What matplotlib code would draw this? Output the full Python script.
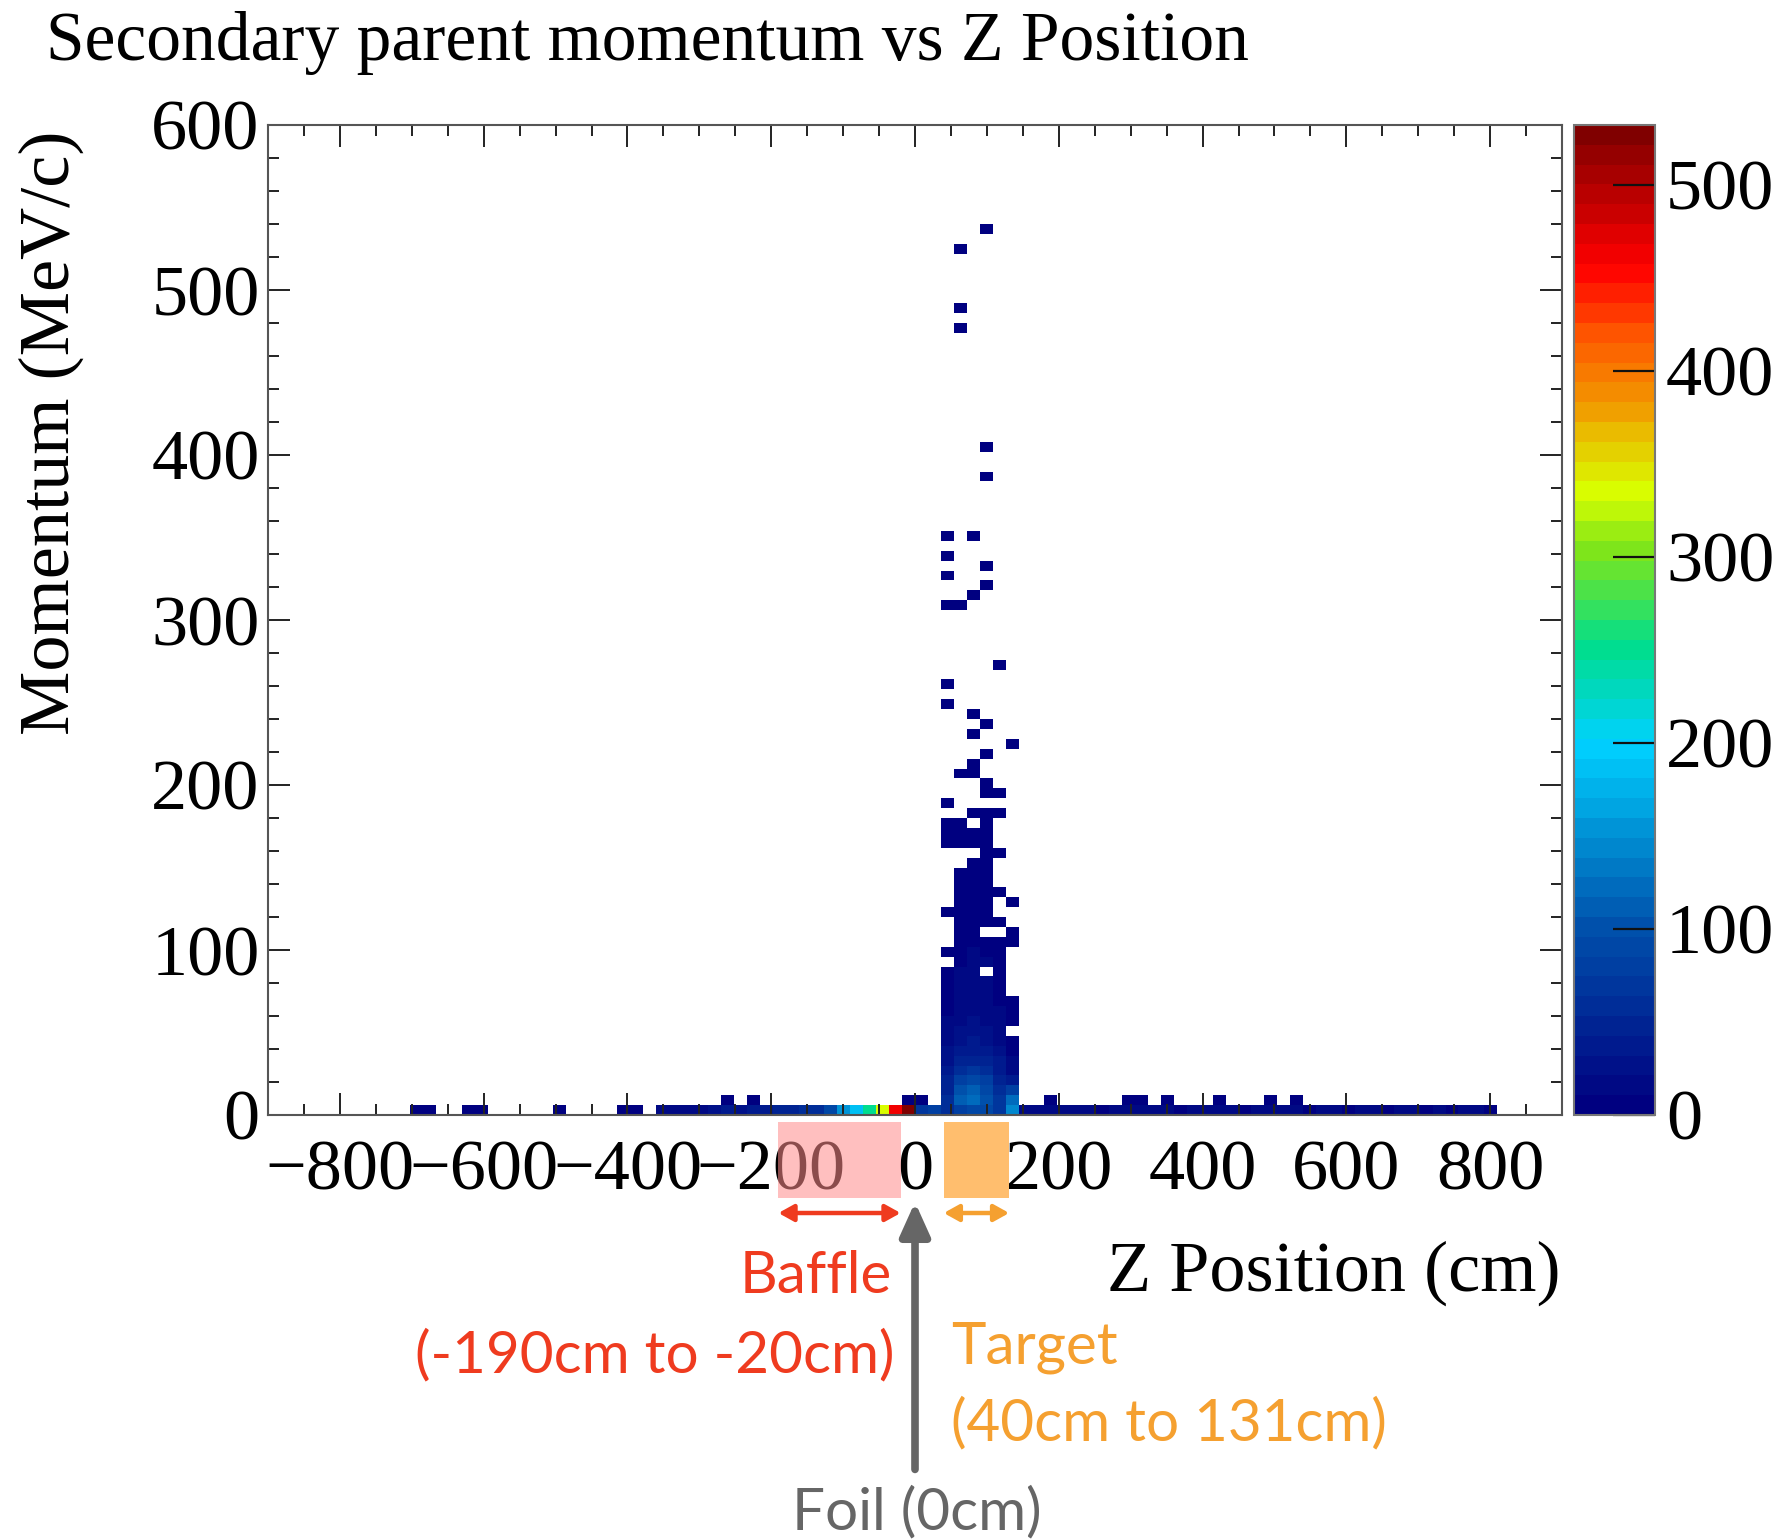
import numpy as np
import matplotlib
matplotlib.use("Agg")
import matplotlib.pyplot as plt
from matplotlib.colors import LinearSegmentedColormap, BoundaryNorm
from matplotlib.patches import Rectangle, FancyArrowPatch
from matplotlib.ticker import MultipleLocator
import matplotlib.transforms as mtransforms

# histogram binning: 100 x 100 bins
z_edges = np.linspace(-900, 900, 101)   # 18 cm per bin
p_edges = np.linspace(0, 600, 101)      # 6 MeV/c per bin

# lowest momentum row (0-6 MeV/c), z bins left of the target
floor_left_bins = [11, 12, 15, 16, 22, 27, 28,
                   30, 31, 32, 33, 34, 35, 36, 37, 38, 39, 40,
                   41, 42, 43, 44, 45, 46, 47, 48, 49, 50, 51]
floor_left_counts = [8, 6, 9, 7, 5, 10, 8,
                     12, 14, 13, 15, 28, 32, 30, 34, 35, 45, 50,
                     55, 60, 95, 150, 190, 250, 330, 460, 532, 70, 75]

# lowest momentum row, z bins right of the target (bins 58..94)
floor_right_bins = list(range(58, 95))
floor_right_counts = [14, 16, 12, 11, 13, 12, 10, 11, 12, 13,
                      12, 11, 10, 12, 11, 13, 12, 10, 11, 12,
                      13, 11, 10, 12, 11, 10, 12, 11, 10, 11,
                      12, 10, 11, 10, 12, 11, 10]

# second row (6-12 MeV/c)
row1_bins = [35, 37, 49, 50, 60, 66, 67, 69, 73, 77, 79]
row1_counts = [3, 2, 4, 5, 2, 3, 2, 2, 3, 2, 2]

# the target peak: z bins 52..57, momentum rows 0..30 (bottom first)
peak_bins = [52, 53, 54, 55, 56, 57]
peak_counts = [
    [60, 85, 95, 90, 70, 140],
    [56, 110, 118, 105, 70, 120],
    [50, 100, 110, 95, 60, 80],
    [44, 80, 90, 76, 50, 40],
    [36, 60, 66, 58, 42, 20],
    [28, 48, 52, 46, 34, 14],
    [22, 38, 42, 38, 26, 10],
    [18, 30, 34, 30, 20, 8],
    [14, 24, 28, 24, 16, 0],
    [12, 20, 24, 20, 14, 6],
    [10, 18, 20, 18, 12, 5],
    [8, 16, 18, 16, 10, 4],
    [7, 14, 16, 14, 9, 0],
    [6, 12, 14, 12, 8, 0],
    [5, 11, 13, 0, 7, 0],
    [0, 10, 12, 11, 6, 0],
    [3, 9, 11, 10, 5, 0],
    [0, 8, 10, 9, 5, 3],
    [0, 7, 9, 0, 0, 3],
    [0, 7, 9, 8, 3, 0],
    [2, 6, 8, 7, 0, 0],
    [0, 6, 7, 6, 0, 2],
    [0, 5, 6, 6, 2, 0],
    [0, 4, 5, 6, 0, 0],
    [0, 3, 4, 5, 0, 0],
    [0, 0, 2, 3, 0, 0],
    [0, 0, 0, 3, 2, 0],
    [3, 2, 2, 4, 0, 0],
    [4, 3, 2, 5, 0, 0],
    [3, 2, 0, 4, 0, 0],
    [0, 0, 3, 2, 2, 0],
]

# isolated high momentum entries above the peak
tail_z_bins = [52, 53, 53, 54, 55, 55, 56, 52, 52, 54, 55, 54, 57, 55, 54,
               53, 54, 55, 55, 56, 52, 52, 54, 52, 55, 52, 55, 53, 53, 53, 55]
tail_p_bins = [31, 34, 34, 35, 36, 33, 32, 41, 43, 38, 39, 40, 37, 32, 52,
               51, 58, 53, 55, 45, 51, 54, 34, 56, 64, 58, 67, 79, 81, 87, 89]
tail_counts = [1] * len(tail_z_bins)

# fill the histogram
H = np.zeros((len(p_edges) - 1, len(z_edges) - 1))
for b, c in zip(floor_left_bins, floor_left_counts):
    H[0, b] = c
for b, c in zip(floor_right_bins, floor_right_counts):
    H[0, b] = c
for b, c in zip(row1_bins, row1_counts):
    H[1, b] = c
for r, row in enumerate(peak_counts):
    for b, c in zip(peak_bins, row):
        H[r, b] = c
for b, r, c in zip(tail_z_bins, tail_p_bins, tail_counts):
    H[r, b] += c
H = np.ma.masked_equal(H, 0)

# ROOT-like rainbow palette, 50 contour levels
anchors = [
    (0.00, (0.00, 0.00, 0.50)),
    (0.19, (0.00, 0.33, 0.68)),
    (0.37, (0.00, 0.82, 1.00)),
    (0.47, (0.00, 0.87, 0.55)),
    (0.57, (0.50, 0.90, 0.10)),
    (0.63, (0.85, 1.00, 0.00)),
    (0.72, (0.95, 0.60, 0.00)),
    (0.80, (1.00, 0.30, 0.00)),
    (0.86, (1.00, 0.00, 0.00)),
    (1.00, (0.50, 0.00, 0.00)),
]
cmap = LinearSegmentedColormap.from_list("rainbow55", anchors, N=256)
zmax = H.max()
norm = BoundaryNorm(np.linspace(0, zmax, 51), ncolors=256)

W, Hpx = 1786, 1539
fig = plt.figure(figsize=(W / 100, Hpx / 100), dpi=100)
ax = fig.add_axes([268 / W, 1 - 1115 / Hpx, 1294 / W, 990 / Hpx])
mesh = ax.pcolormesh(z_edges, p_edges, H, cmap=cmap, norm=norm,
                     edgecolors="none", antialiased=False)

serif = "Liberation Serif"
ax.set_xlim(-900, 900)
ax.set_ylim(0, 600)
ax.xaxis.set_major_locator(MultipleLocator(200))
ax.xaxis.set_minor_locator(MultipleLocator(50))
ax.yaxis.set_major_locator(MultipleLocator(100))
ax.yaxis.set_minor_locator(MultipleLocator(20))
ax.tick_params(which="both", direction="in", top=True, right=True,
               width=1.4, color="#222222")
ax.tick_params(which="major", length=16)
ax.tick_params(which="minor", length=8)
ax.tick_params(axis="x", pad=18)
ax.tick_params(axis="y", pad=6)
for lab in ax.get_xticklabels() + ax.get_yticklabels():
    lab.set_fontfamily(serif)
    lab.set_fontsize(52)
for sp in ax.spines.values():
    sp.set_color("#555555")
    sp.set_linewidth(1.5)

# colour scale
cax = fig.add_axes([1574 / W, 1 - 1115 / Hpx, 81 / W, 990 / Hpx])
cb = fig.colorbar(mesh, cax=cax, ticks=[0, 100, 200, 300, 400, 500])
cb.outline.set_edgecolor("#777777")
cb.outline.set_linewidth(1.5)
cax.tick_params(direction="in", length=30, width=1.6, pad=8, color="#111111")
for lab in cax.get_yticklabels():
    lab.set_fontfamily(serif)
    lab.set_fontsize(52)
cax.minorticks_off()

fig.text(46 / W, 1 - 43 / Hpx, "Secondary parent momentum vs Z Position",
         fontfamily=serif, fontsize=50, ha="left", va="center")
fig.text(51 / W, 1 - 433 / Hpx, "Momentum (MeV/c)", fontfamily=serif,
         fontsize=52, rotation=90, ha="center", va="center")
ax.text(0.9985, -0.16, "Z Position (cm)", transform=ax.transAxes,
        fontfamily=serif, fontsize=52, ha="right", va="center")

# detector regions drawn under the axis
trans = mtransforms.blended_transform_factory(ax.transData, ax.transAxes)
red, orange, grey = "#ef3b1f", "#f5a030", "#666666"
ax.add_patch(Rectangle((-190, -0.084), 170, 0.077, transform=trans,
                       facecolor=(1.0, 0.55, 0.55), alpha=0.55,
                       edgecolor="none", clip_on=False, zorder=5))
ax.add_patch(Rectangle((40, -0.084), 91, 0.077, transform=trans,
                       facecolor="#ffbe6e", edgecolor="none",
                       clip_on=False, zorder=5))
for x0, x1, col in [(-190, -20, red), (40, 131, orange)]:
    ax.add_patch(FancyArrowPatch((x0, -0.099), (x1, -0.099), transform=trans,
                                 arrowstyle="<|-|>,head_length=9,head_width=5",
                                 color=col, lw=3.2, clip_on=False,
                                 shrinkA=0, shrinkB=0, zorder=6))
ax.add_patch(FancyArrowPatch((0, -0.358), (0, -0.088), transform=trans,
                             arrowstyle="-|>,head_length=20,head_width=9",
                             color=grey, lw=5.5, clip_on=False,
                             shrinkA=0, shrinkB=0, zorder=6))

sans = "Lato"
ax.text(0.482, -0.163, "Baffle", transform=ax.transAxes, color=red,
        fontfamily=sans, fontsize=42, ha="right", va="center")
ax.text(0.4838, -0.243, "(-190cm to -20cm)", transform=ax.transAxes,
        color=red, fontfamily=sans, fontsize=42, ha="right", va="center")
ax.text(0.5278, -0.235, "Target", transform=ax.transAxes, color=orange,
        fontfamily=sans, fontsize=42, ha="left", va="center")
ax.text(0.5278, -0.312, "(40cm to 131cm)", transform=ax.transAxes,
        color=orange, fontfamily=sans, fontsize=42, ha="left", va="center")
ax.text(0.5015, -0.402, "Foil (0cm)", transform=ax.transAxes, color=grey,
        fontfamily=sans, fontsize=42, ha="center", va="center")

fig.savefig("out.png", dpi=100)
